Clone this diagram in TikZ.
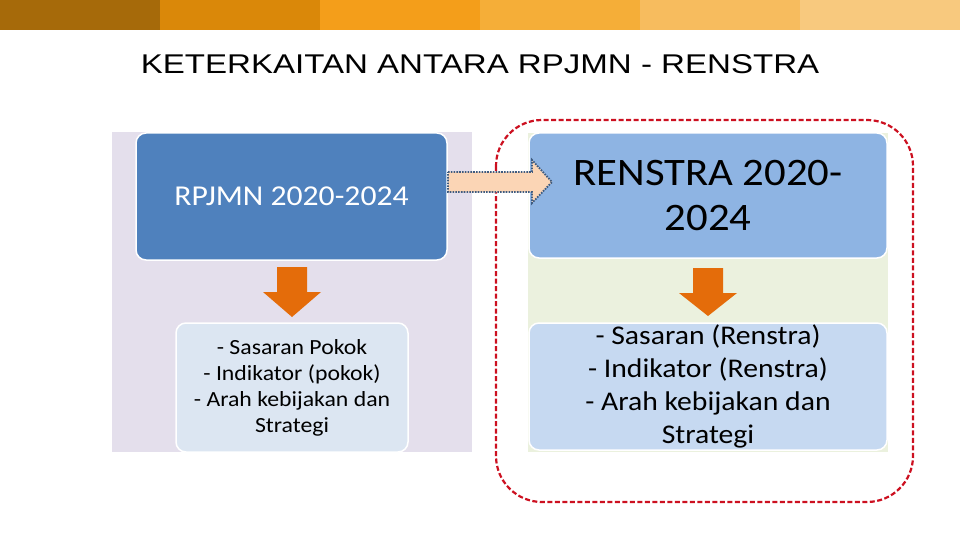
\documentclass[tikz,border=0pt]{standalone}
\usepackage{fontspec}
\setmainfont{Carlito}[FakeStretch=1.1]
\newfontfamily\titlefont{Liberation Sans}[FakeStretch=1.22]
\definecolor{bA}{HTML}{A66A0A}
\definecolor{bB}{HTML}{DA8809}
\definecolor{bC}{HTML}{F49E1A}
\definecolor{bD}{HTML}{F5AE38}
\definecolor{bE}{HTML}{F7BC5E}
\definecolor{bF}{HTML}{F8C97E}
\definecolor{lav}{HTML}{E4DFEC}
\definecolor{olivebg}{HTML}{EBF1DE}
\definecolor{darkblue}{HTML}{4F81BD}
\definecolor{midblue}{HTML}{8EB4E3}
\definecolor{paleblue}{HTML}{DCE6F2}
\definecolor{lightblue}{HTML}{C6D9F1}
\definecolor{orangearrow}{HTML}{E46C0A}
\definecolor{peach}{HTML}{FBD5B5}
\definecolor{dotblue}{HTML}{3F5B7F}
\definecolor{redline}{HTML}{CC1020}
\tikzset{
  box/.style={draw=white, line width=1.5pt, rounded corners=10pt, inner sep=0pt, align=center},
  downarrow/.style={fill=orangearrow, draw=none},
}
\begin{document}
\begin{tikzpicture}[x=1pt,y=-1pt]
\useasboundingbox (0,0) rectangle (960,540);
% top colour bar
\fill[bA] (0,0) rectangle (160,30);
\fill[bB] (160,0) rectangle (320,30);
\fill[bC] (320,0) rectangle (480,30);
\fill[bD] (480,0) rectangle (640,30);
\fill[bE] (640,0) rectangle (800,30);
\fill[bF] (800,0) rectangle (960,30);
% title
\node (title) at (480,64) {\titlefont\fontsize{27.1}{30}\selectfont KETERKAITAN ANTARA RPJMN - RENSTRA};
% left panel
\fill[lav] (112,132) rectangle (472,452);
\node[box, fill=darkblue, minimum width=311pt, minimum height=127pt, text=white,
  font=\fontsize{28.8}{34}\selectfont] (rpjmn) at (291.5,196.5) {RPJMN 2020-2024};
\node[box, fill=paleblue, minimum width=232pt, minimum height=129pt,
  font=\fontsize{21.6}{26}\selectfont] (pokok) at (292,387.5)
  {- Sasaran Pokok\\- Indikator (pokok)\\- Arah kebijakan dan\\Strategi};
\path[downarrow] (277,267) -- (307,267) -- (307,292) -- (321,292) -- (292,317) -- (263,292) -- (277,292) -- cycle;
% red dashed frame
\draw[redline, line width=2.2pt, dash pattern=on 5pt off 2.5pt, rounded corners=46pt] (496,120) rectangle (913,502);
% right panel
\fill[olivebg] (528,133) rectangle (888,452);
\node[box, fill=midblue, minimum width=358pt, minimum height=125pt,
  font=\fontsize{38.9}{45}\selectfont] (renstra) at (708,195.5) {RENSTRA 2020-\\2024};
\node[box, fill=lightblue, minimum width=358pt, minimum height=127pt,
  font=\fontsize{27}{33}\selectfont] (sasaran) at (708,386.5)
  {- Sasaran (Renstra)\\- Indikator (Renstra)\\- Arah kebijakan dan\\Strategi};
\path[downarrow] (693,268) -- (723,268) -- (723,293) -- (737,293) -- (708,316) -- (679,293) -- (693,293) -- cycle;
% block arrow RPJMN -> RENSTRA
\draw[fill=peach, draw=dotblue, line width=1.8pt, dash pattern=on 1.6pt off 1.2pt]
  (448,172) -- (532,172) -- (532,160) -- (552,182) -- (532,203) -- (532,192) -- (448,192) -- cycle;
\end{tikzpicture}
\end{document}
